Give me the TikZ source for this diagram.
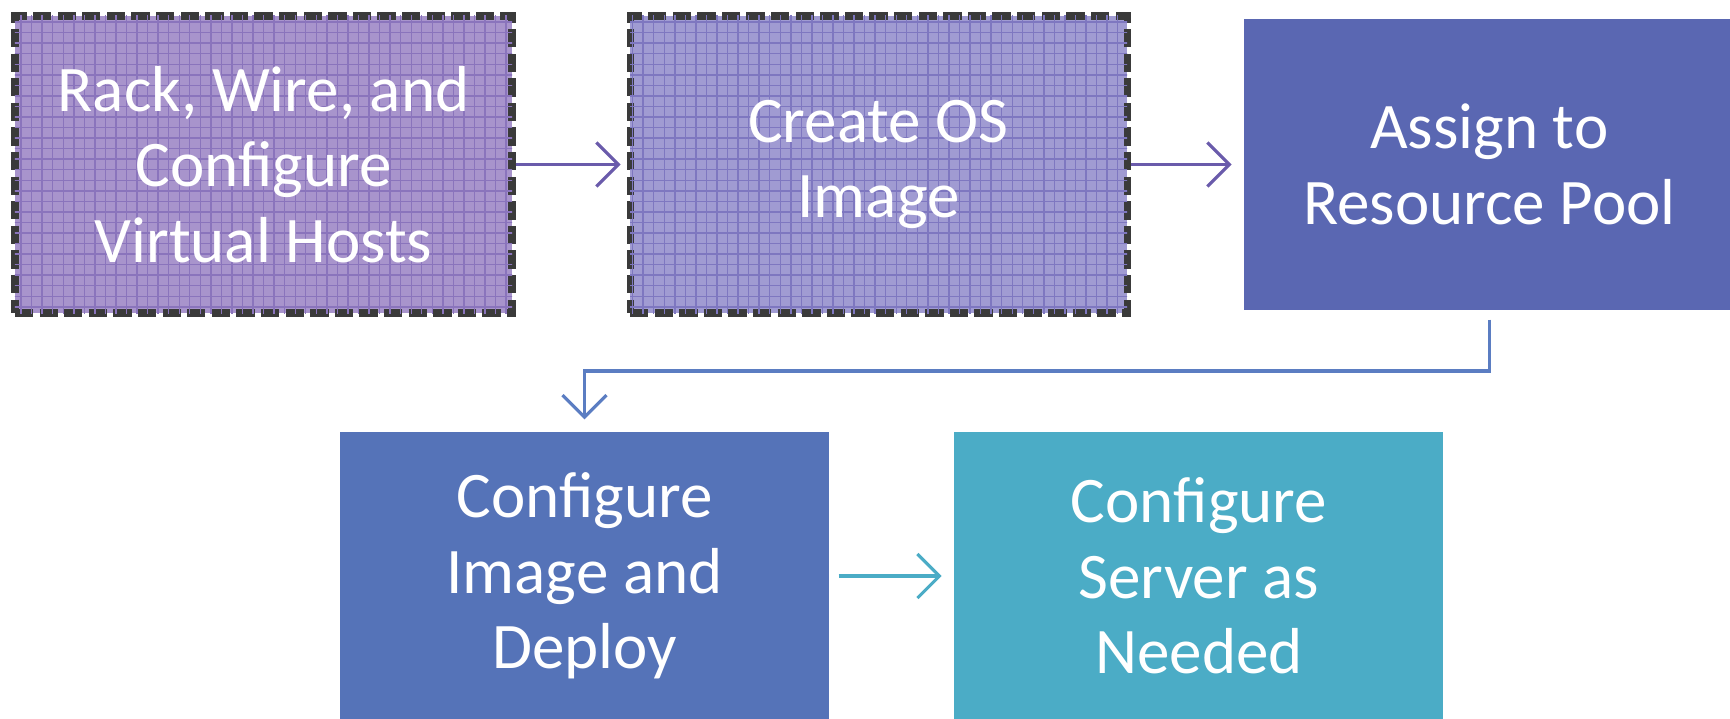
\documentclass[tikz,border=0pt]{standalone}
\usepackage{fontspec}
\setmainfont{Carlito}
\usetikzlibrary{positioning,arrows.meta,patterns}

\definecolor{rackfill}{HTML}{A894CC}
\definecolor{rackgrid}{HTML}{8A74BC}
\definecolor{osfill}{HTML}{A09BD2}
\definecolor{osgrid}{HTML}{7E77C0}
\definecolor{poolfill}{HTML}{5A67B2}
\definecolor{deployfill}{HTML}{5573B8}
\definecolor{serverfill}{HTML}{4BACC6}
\definecolor{edgegray}{HTML}{3A3A3A}
\definecolor{arrowpurple}{HTML}{6A5BAB}
\definecolor{arrowblue}{HTML}{5B7DC2}

\begin{document}
\begin{tikzpicture}[>={Straight Barb[length=2.2mm,width=4.4mm]},
    main/.style = {rectangle, inner sep=0pt, align=center, text=white,
        font=\fontsize{18.5}{21.5}\selectfont},
    draft/.style = {main, draw=edgegray, line width=2pt,
        dash pattern=on 5.2pt off 1.8pt, minimum width=4.97cm, minimum height=2.97cm},
    solid box/.style = {main, minimum width=4.89cm, minimum height=2.88cm},
    link/.style = {->, line width=0.9pt}]
    \useasboundingbox (0,0) rectangle (17.3,7.18);
    \node[draft, fill=rackfill, postaction={pattern=grid, pattern color=rackgrid}] (rack) at (2.635,5.535) {Rack, Wire, and\\Configure\\Virtual Hosts};
    \node[draft, fill=osfill, postaction={pattern=grid, pattern color=osgrid}] (os) [right=1.11cm of rack] {Create OS\\Image};
    \node[main, fill=poolfill, minimum width=4.9cm, minimum height=2.91cm] (pool) [right=1.13cm of os] {Assign to\\Resource Pool};
    \node[solid box, fill=deployfill] (deploy) at (5.845,1.42) {Configure\\Image and\\Deploy};
    \node[solid box, fill=serverfill] (server) [right=1.24cm of deploy] {Configure\\Server as\\Needed};
    \draw[link, arrowpurple, shorten >=0.06cm] (rack) -- (os);
    \draw[link, arrowpurple, shorten >=0.12cm] (os) -- (pool);
    \draw[link, arrowblue, shorten <=0.09cm, shorten >=0.12cm] (pool.south) |- (deploy.north |- 0,3.47) coordinate (bend) -- (deploy.north);
    \draw[link, serverfill, shorten <=0.09cm, shorten >=0.12cm] (deploy) -- (server);
\end{tikzpicture}
\end{document}
